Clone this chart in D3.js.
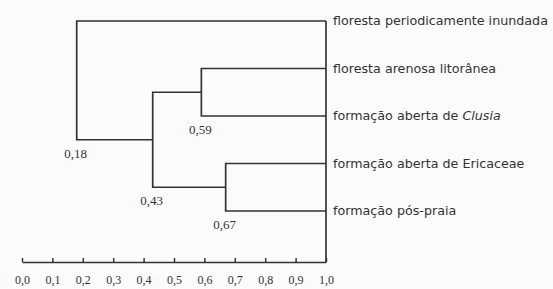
<!DOCTYPE html>
<html>
<head>
<meta charset="utf-8">
<script src="https://cdn.jsdelivr.net/npm/d3@7"></script>
<style>
  body { margin: 0; background: #fbfbfb; }
  svg { display: block; }
</style>
</head>
<body>
<svg id="dendro"></svg>
<script>
// leaves, top to bottom
const leaves = [
  "floresta periodicamente inundada",
  "floresta arenosa litorânea",
  "formação aberta de Clusia",
  "formação aberta de Ericaceae",
  "formação pós-praia"
];
// joins: children refer to leaf index ("L0") or earlier join ("N0")
const joinChildren = [["L1", "L2"], ["L3", "L4"], ["N0", "N1"], ["L0", "N2"]];
const joinHeights = [0.59, 0.67, 0.43, 0.18];
const joinLabels = ["0,59", "0,67", "0,43", "0,18"];
const axisTicks = [0, 0.1, 0.2, 0.3, 0.4, 0.5, 0.6, 0.7, 0.8, 0.9, 1.0];

const svgWidth = 553, svgHeight = 289;
const svg = d3.select("#dendro")
  .attr("width", svgWidth)
  .attr("height", svgHeight);

const x = d3.scaleLinear().domain([0, 1]).range([22, 326]);
const y = d3.scalePoint().domain(leaves).range([21, 211]);

const ink = "#333";

// positions of every node
const pos = {};
leaves.forEach((d, i) => { pos["L" + i] = { x: x(1), y: y(d) }; });
joinChildren.forEach((c, i) => {
  const a = pos[c[0]], b = pos[c[1]];
  pos["N" + i] = { x: x(joinHeights[i]), y: (a.y + b.y) / 2, top: a.y, bottom: b.y };
});

const g = svg.append("g")
  .attr("fill", "none")
  .attr("stroke", ink)
  .attr("stroke-width", 1.7);

joinChildren.forEach((c, i) => {
  const n = pos["N" + i];
  const a = pos[c[0]], b = pos[c[1]];
  const path = d3.path();
  path.moveTo(a.x, a.y);
  path.lineTo(n.x, a.y);
  path.lineTo(n.x, b.y);
  path.lineTo(b.x, b.y);
  g.append("path").attr("d", path.toString());
});

// right border line at 1.0
g.append("line")
  .attr("x1", x(1)).attr("x2", x(1))
  .attr("y1", y(leaves[0])).attr("y2", 262);

// join labels
svg.append("g")
  .selectAll("text")
  .data(joinChildren)
  .join("text")
  .attr("x", (c, i) => pos["N" + i].x - 1)
  .attr("y", (c, i) => pos["N" + i].bottom + 18)
  .attr("text-anchor", "middle")
  .attr("font-family", "Liberation Serif, serif")
  .attr("font-size", 13)
  .attr("fill", ink)
  .text((c, i) => joinLabels[i]);

// leaf labels
const lab = svg.append("g")
  .selectAll("text")
  .data(leaves)
  .join("text")
  .attr("x", x(1) + 7)
  .attr("y", d => y(d))
  .attr("dy", "0.35em")
  .attr("font-family", "DejaVu Sans, sans-serif")
  .attr("font-size", 12.7)
  .attr("fill", ink);
lab.each(function (d) {
  const t = d3.select(this);
  const m = d.match(/^(.*de )(Clusia)$/);
  if (m) {
    t.append("tspan").text(m[1]);
    t.append("tspan").attr("font-style", "italic").text(m[2]);
  } else {
    t.text(d);
  }
});

// axis
const axis = svg.append("g")
  .attr("transform", "translate(0,262)")
  .call(d3.axisBottom(x)
    .tickValues(axisTicks)
    .tickSizeInner(-4)
    .tickSizeOuter(0)
    .tickPadding(13)
    .tickFormat(d => d3.format(".1f")(d).replace(".", ",")));
axis.selectAll("path, line").attr("stroke", ink).attr("stroke-width", 1.5);
axis.selectAll("text")
  .attr("font-family", "Liberation Serif, serif")
  .attr("font-size", 12)
  .attr("fill", ink);
</script>
</body>
</html>
